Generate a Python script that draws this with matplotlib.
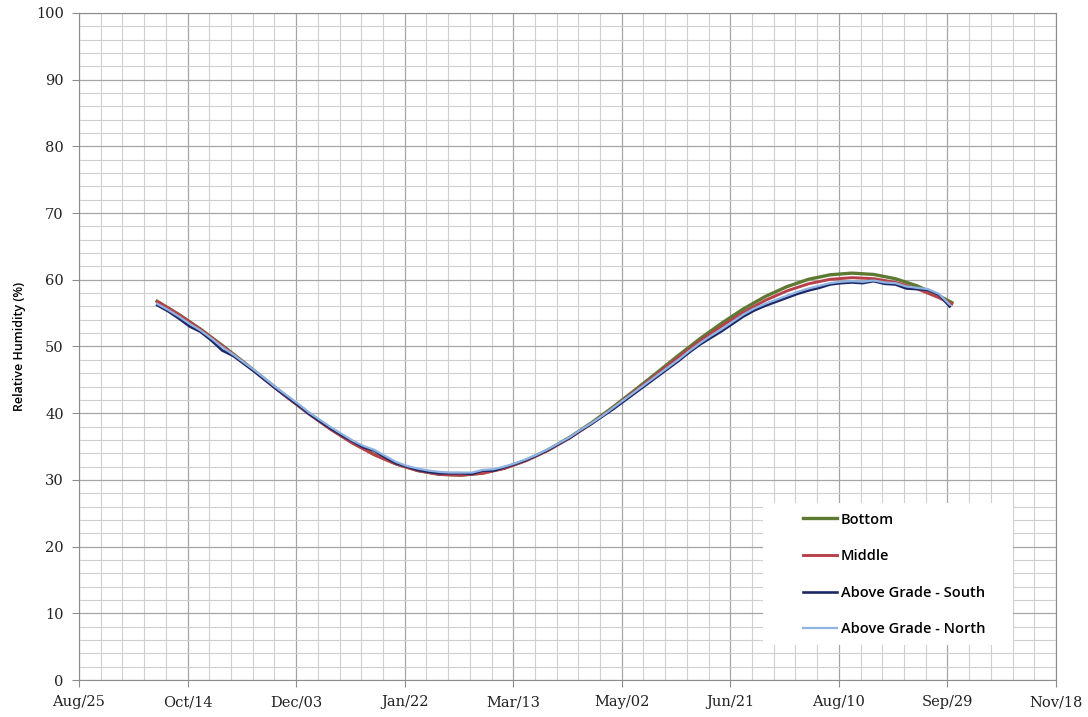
import pandas as pd
import matplotlib
matplotlib.use("Agg")
import matplotlib.pyplot as plt
import matplotlib.dates as mdates
from matplotlib.patches import Rectangle
from matplotlib.ticker import MultipleLocator

# smooth model series, every 10 days from Sep 30 2008 plus last reading
dates_smooth = list(pd.date_range('2008-09-30', '2009-09-25', freq='10D')) + [pd.Timestamp('2009-10-01')]
bottom = [56.77, 54.80, 52.59, 50.15, 47.62, 45.00, 42.42, 39.96, 37.64, 35.58,
          33.83, 32.42, 31.42, 30.84, 30.71, 31.02, 31.77, 32.95, 34.49, 36.38,
          38.55, 40.92, 43.45, 46.03, 48.64, 51.16, 53.49, 55.63, 57.48, 58.96,
          60.07, 60.75, 61.00, 60.80, 60.16, 59.09, 57.62, 56.58]
middle = [56.75, 54.78, 52.55, 50.10, 47.55, 44.92, 42.33, 39.86, 37.55, 35.50,
          33.76, 32.37, 31.38, 30.82, 30.70, 31.00, 31.73, 32.88, 34.40, 36.27,
          38.42, 40.78, 43.28, 45.80, 48.36, 50.81, 53.06, 55.12, 56.90, 58.33,
          59.40, 60.07, 60.32, 60.17, 59.62, 58.66, 57.32, 56.38]

# measured series, every 5 days
dates_sensor = pd.date_range('2008-09-30', periods=74, freq='5D')
south = [56.20, 55.30, 54.20, 53.00, 52.20, 50.90, 49.40, 48.60, 47.40, 46.20,
         44.90, 43.60, 42.40, 41.20, 39.90, 38.80, 37.70, 36.70, 35.80, 34.90,
         34.40, 33.40, 32.50, 32.00, 31.50, 31.20, 31.00, 31.00, 31.00, 30.90,
         31.40, 31.40, 31.90, 32.40, 33.00, 33.70, 34.50, 35.40, 36.30, 37.40,
         38.40, 39.50, 40.60, 41.80, 43.00, 44.20, 45.40, 46.60, 47.80, 49.10,
         50.30, 51.30, 52.30, 53.40, 54.50, 55.40, 56.10, 56.70, 57.30, 57.90,
         58.40, 58.80, 59.30, 59.50, 59.60, 59.50, 59.80, 59.40, 59.30, 58.70,
         58.60, 58.50, 57.80, 56.00]
north = [56.40, 55.50, 54.50, 53.40, 52.40, 51.20, 49.90, 48.80, 47.60, 46.40,
         45.10, 43.80, 42.60, 41.40, 40.10, 39.00, 37.90, 36.90, 35.90, 35.10,
         34.50, 33.60, 32.70, 32.10, 31.70, 31.40, 31.20, 31.10, 31.10, 31.10,
         31.50, 31.60, 32.00, 32.50, 33.10, 33.80, 34.60, 35.50, 36.40, 37.50,
         38.50, 39.60, 40.80, 42.00, 43.20, 44.40, 45.60, 46.80, 48.00, 49.30,
         50.50, 51.60, 52.60, 53.70, 54.80, 55.70, 56.40, 57.00, 57.60, 58.20,
         58.70, 59.10, 59.50, 59.70, 59.80, 59.70, 59.90, 59.60, 59.50, 59.00,
         58.80, 58.60, 57.90, 56.30]

fig = plt.figure(figsize=(10.88, 7.17), dpi=100)
ax = fig.add_axes([0.0726, 0.0516, 0.8980, 0.9303])

ax.plot(dates_smooth, bottom, color='#5e7a32', lw=2.4, label='Bottom')
ax.plot(dates_smooth, middle, color='#b8404a', lw=2.1, label='Middle')
ax.plot(dates_sensor, south, color='#1c2866', lw=1.9, label='Above Grade - South')
ax.plot(dates_sensor, north, color='#8fb4e3', lw=1.6, label='Above Grade - North')

ax.set_xlim(pd.Timestamp('2008-08-25'), pd.Timestamp('2009-11-18'))
ax.set_ylim(0, 100)
ax.set_xticks(pd.date_range('2008-08-25', periods=10, freq='50D'))
ax.set_xticks(pd.date_range('2008-08-25', '2009-11-18', freq='10D'), minor=True)
ax.xaxis.set_major_formatter(mdates.DateFormatter('%b/%d'))
ax.yaxis.set_major_locator(MultipleLocator(10))
ax.yaxis.set_minor_locator(MultipleLocator(2))

ax.grid(which='major', color='#a6a6a6', lw=0.9)
ax.grid(which='minor', color='#cfcfcf', lw=0.8)
ax.set_axisbelow(True)
for s in ax.spines.values():
    s.set_color('#8c8c8c')
ax.tick_params(which='major', length=5, color='#8c8c8c', labelsize=10.5, pad=6)
ax.tick_params(which='minor', length=0)
for lab in ax.get_xticklabels() + ax.get_yticklabels():
    lab.set_family('DejaVu Serif')
    lab.set_color('#222222')

ax.set_ylabel('Relative Humidity (%)', family='Open Sans', fontsize=9,
              fontweight='semibold', labelpad=7)

# white legend panel
ax.add_patch(Rectangle((0.700, 0.0525), 0.256, 0.213, transform=ax.transAxes,
                       facecolor='white', edgecolor='none', zorder=4))
leg = ax.legend(loc='upper left', bbox_to_anchor=(0.741, 0.251), frameon=False,
                borderpad=0, labelspacing=1.55, handlelength=2.3, handletextpad=0.3,
                borderaxespad=0, prop={'family': 'Open Sans', 'weight': 'semibold', 'size': 10.5})
leg.set_zorder(5)

fig.savefig('out.png', dpi=100, facecolor='white')
